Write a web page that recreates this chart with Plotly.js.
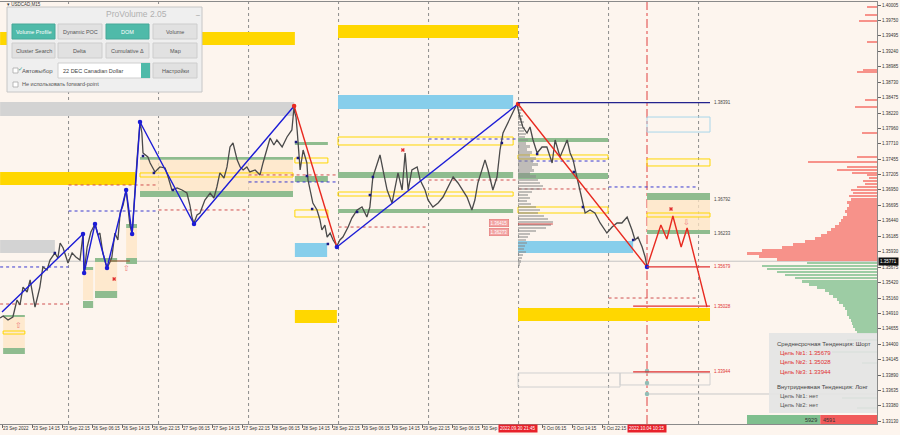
<!DOCTYPE html>
<html><head><meta charset="utf-8">
<script src="https://cdn.plot.ly/plotly-3.0.1.min.js"></script>
<style>html,body{margin:0;padding:0;background:#fdf5ee;}#chart{width:900px;height:435px;}</style>
</head><body><div id="chart"></div>
<script>
// ---------------- DATA ----------------
const tickHours = [0,8,16,24,32,40,48,56,64,72,80,88,96,104,112,120,128,144,152,160];
const tickLabels = ["23 Sep 2022","23 Sep 14:15","23 Sep 22:15","26 Sep 06:15","26 Sep 14:15","26 Sep 22:15","27 Sep 06:15","27 Sep 14:15","27 Sep 22:15","28 Sep 06:15","28 Sep 14:15","28 Sep 22:15","29 Sep 06:15","29 Sep 14:15","29 Sep 22:15","30 Sep 06:15","30 Sep 1","3 Oct 06:15","3 Oct 14:15","3 Oct 22:15"];
const priceTicks = [1.40005,1.39750,1.39495,1.39240,1.38985,1.38730,1.38475,1.38220,1.37960,1.37710,1.37455,1.37205,1.36950,1.36695,1.36440,1.36185,1.35930,1.35675,1.35420,1.35160,1.34910,1.34655,1.34400,1.34145,1.33890,1.33635,1.33380,1.33130];
const currentPrice = 1.35771;

const priceHours = [-0.5,0.3,1.6,2.9,4.0,4.8,5.6,6.7,7.5,8.3,8.8,9.6,10.1,10.9,12.0,12.8,14.1,14.9,15.5,16.3,16.8,17.6,18.7,19.7,20.8,21.6,21.9,22.7,23.7,24.8,25.6,26.1,26.9,28.0,28.8,29.3,30.1,30.9,31.5,32.3,33.1,33.6,34.1,34.7,35.5,36.0,36.8,
37.3,37.6,38.9,39.5,40.8,42.1,43.5,44.3,45.3,46.7,48.0,49.3,50.1,50.7,51.2,52.0,52.8,54.1,55.5,56.5,57.3,58.1,59.2,60.0,60.8,61.6,62.7,63.5,64.3,65.3,66.1,67.5,68.8,69.6,70.7,71.5,72.5,73.3,74.7,76.0,77.3,77.9,78.1,
78.4,78.7,78.9,79.2,79.5,80.3,81.3,81.6,82.1,82.9,84.0,84.8,85.3,86.1,86.7,87.5,88.3,89.3,
90.1,90.9,92.3,93.3,94.7,96.0,97.3,98.1,98.9,100.0,100.8,101.6,102.7,104.0,104.8,105.6,106.7,107.5,108.3,109.3,110.7,111.5,112.8,113.6,114.9,116.3,117.6,118.9,120.3,121.6,122.7,124.0,125.3,126.1,126.9,128.0,128.8,129.6,130.9,132.0,132.8,133.6,134.9,136.3,137.3,
138.1,138.9,140.0,140.8,141.6,142.7,144.0,145.3,146.7,147.5,148.8,150.7,151.5,152.3,153.3,154.1,154.7,155.5,156.8,158.1,159.5,161.3,162.7,164.0,165.3,166.7,168.0,168.8,169.6,170.7,171.5,172.0];
const priceValues = [1.34832,1.34866,1.34799,1.34849,1.35130,1.35048,1.35344,1.35262,1.35461,1.35213,1.35013,1.35213,1.35344,1.35676,1.35626,1.35791,1.35907,1.35824,1.36072,1.35990,1.35907,1.35742,1.35907,1.35841,1.35791,1.36221,1.35577,1.36006,1.36254,1.36386,1.36204,1.36237,1.35907,1.35659,1.35758,1.35841,1.36237,1.36122,1.36568,1.36700,1.36948,1.36700,1.36369,1.36221,1.37064,1.37446,1.38072,
1.37890,1.37560,1.37494,1.37395,1.37246,1.37329,1.37312,1.37163,1.36948,1.36981,1.36948,1.36898,1.36700,1.36485,1.36403,1.36535,1.36568,1.36783,1.36898,1.36816,1.36998,1.37230,1.37146,1.37329,1.37659,1.37725,1.37446,1.37329,1.37279,1.37329,1.37246,1.37279,1.37197,1.37395,1.37659,1.37807,1.37692,1.37774,1.37659,1.37824,1.37940,1.38336,1.38221,
1.38154,1.37940,1.37725,1.37494,1.37279,1.37609,1.37395,1.37113,1.36948,1.36733,1.36618,1.36452,1.36287,1.36369,1.36171,1.36237,1.36122,1.36023,
1.36122,1.36171,1.36336,1.36485,1.36618,1.36667,1.36502,1.36667,1.37163,1.37395,1.37527,1.37279,1.36948,1.36733,1.36998,1.37230,1.36948,1.37560,1.36948,1.37279,1.37329,1.37113,1.36948,1.36783,1.36667,1.36733,1.36832,1.36998,1.37163,1.37064,1.36948,1.36832,1.36618,1.36783,1.37064,1.37279,1.37446,1.37279,1.36948,1.37163,1.37609,1.37890,1.38055,1.38221,1.38369,
1.38154,1.37989,1.37890,1.37989,1.37774,1.37560,1.37659,1.37659,1.37395,1.37774,1.37494,1.37774,1.37560,1.37446,1.37163,1.36948,1.36733,1.36568,1.36618,1.36568,1.36403,1.36237,1.36336,1.36403,1.36403,1.36502,1.36287,1.36122,1.36171,1.36006,1.35841,1.35676];

// zigzag swings
const swingHours  = [0,21.6,21.9,24.8,28.0,33.1,34.7,36.8,51.2,77.9,89.3,137.6,172.0,175.7,177.3,178.9,181.1,182.7,188.0];
const swingPrices = [1.34931,1.36221,1.35577,1.36386,1.35659,1.36948,1.36221,1.38072,1.36386,1.38336,1.36006,1.38369,1.35676,1.36369,1.36138,1.36518,1.36006,1.36320,1.35013];
const legColors   = ["b","b","b","b","b","b","b","b","b","r","b","r","r","r","r","r","r","r"];
const swingDot    = ["","b","b","b","b","b","b","b","b","r","b","r","b","","","","","",""];

// small pivot marks
const pivotHours  = [14.1,37.6,40.5,45.6,78.4,78.9,81.3,82.7,86.9,94.7,98.1,98.9,133.3,142.7,152.5,154.9,168.3];
const pivotPrices = [1.35907,1.37510,1.37230,1.36948,1.37741,1.37477,1.37180,1.36634,1.36056,1.36585,1.36865,1.37163,1.37725,1.37543,1.37246,1.36667,1.36122];

// zones
const zoneStart = [36.8,0.3,21.6,24.8,33.1,172.0,-0.5,89.6,-0.5,89.6,-0.5,36.8,36.8,36.8,-0.5,78.1,78.1,137.6,137.6,89.6,89.6,89.6,89.6,137.6,137.6,137.6,137.6,172.0,172.0,172.0,172.0,172.0,78.1,78.1,78.1,78.1,0.3,0.3,0.3,21.6,21.6,24.8,24.8,33.1,33.1,137.6,164.8];
const zoneEnd   = [77.6,6.1,24.3,30.7,36.0,188.8,78.1,137.6,77.9,136.3,35.5,77.6,77.6,77.6,14.1,86.7,89.3,188.8,168.3,136.3,136.3,136.3,136.3,161.6,161.6,161.6,161.6,188.8,188.8,188.8,188.8,188.8,86.9,86.9,86.9,86.9,6.1,6.1,6.1,24.3,24.3,30.7,30.7,36.0,36.0,164.8,188.8];
const zoneLow   = [1.36932,1.34304,1.35130,1.35262,1.35824,1.36287,1.39344,1.39460,1.38171,1.38287,1.37031,1.37446,1.36832,1.37163,1.35907,1.35841,1.34750,1.34783,1.35907,1.37147,1.36568,1.37692,1.36849,1.37741,1.37130,1.37461,1.36568,1.37906,1.37345,1.36783,1.36502,1.36221,1.37692,1.37395,1.37081,1.36502,1.34849,1.34568,1.34238,1.35626,1.34998,1.35758,1.35163,1.36320,1.35725,1.33692,1.33726];
const zoneHigh  = [1.37446,1.34849,1.35626,1.35758,1.36320,1.36783,1.39559,1.39675,1.38402,1.38518,1.37246,1.37494,1.36932,1.37230,1.36122,1.36072,1.34965,1.34998,1.36105,1.37246,1.36634,1.37824,1.36915,1.37807,1.37230,1.37527,1.36667,1.38154,1.37461,1.36898,1.36568,1.36287,1.37741,1.37477,1.37180,1.36618,1.34882,1.34618,1.34337,1.35676,1.35114,1.35824,1.35279,1.36386,1.35824,1.33924,1.33924];
const zoneKind  = ["beige","beige","beige","beige","beige","beige","gold","gold","grey","sky","gold","green","green","goldline","grey","sky","gold","gold","sky","green","green","goldline","goldline","green","green","goldline","goldline","skyline","goldline","green","goldline","green","green","goldline","green","goldline","green","goldline","green","green","green","green","green","green","green","greyline","greyline"];

// dotted levels
const levelStart = [-0.5,-0.5,17.75,17.75,41.75,65.75,65.75,89.75,113.75,113.75,137.75,137.75,161.75,161.75];
const levelEnd   = [17.75,17.75,41.75,41.75,65.75,89.75,89.75,113.75,137.75,137.75,161.75,161.75,185.75,185.75];
const levelPrice = [1.35676,1.35064,1.36601,1.37031,1.36618,1.37081,1.37197,1.36336,1.37791,1.37113,1.37427,1.36965,1.36998,1.35163];
const levelKind  = ["b","r","b","r","r","b","r","r","b","r","b","r","b","r"];
const dayBreakHours = [17.75,41.75,65.75,89.75,113.75,137.75,161.75,185.75];
const forecastHour = 172.0;

// target lines
const targetStart = [137.6,172.0,168.3,168.3];
const targetEnd   = [188.8,188.8,188.8,188.8];
const targetPrice = [1.38391,1.35679,1.35028,1.33944];
const targetColor = ["#23238e","#e03030","#e03030","#e03030"];
const sideLabelPrice = [1.38391,1.36792,1.36233,1.35679,1.35028,1.33944];
const sideLabelColor = ["#444","#444","#444","#e03030","#e03030","#e03030"];

// session volume profile (grey)
const sessProfileTop = 1.38369, profileStep = 0.0005;
const sessProfileVol = [2,3,4,3,5,4,6,5,7,6,8,7,10,8,12,9,14,12,18,15,20,14,16,12,18,20,22,25,24,14,10,12,9,13,18,22,20,26,30,35,33,28,18,12,10,8,9,7,6,8,5,4,3,2];
const sessProfileStart = 137.6;
const pocPrice = 1.36386, pocEnd = 146.9;

// DOM profile on the right
const askTop = 1.37197;
const askVol = [10,8,14,12,20,26,24,28,26,30,28,30,32,30,34,36,38,42,46,50,56,62,72,84,95,115,130,118,100];
const askSparsePrice = [1.39972,1.39840,1.39741,1.39394,1.38931,1.38898,1.38435,1.38320,1.37890,1.37494,1.37411,1.37329,1.37279,1.37230];
const askSparseVol   = [10,12,18,10,14,20,12,22,15,20,69,30,40,25];
const bidTop = 1.35742;
const bidVol = [70,115,110,100,92,82,75,68,60,52,48,44,40,38,34,32,30,30,28,26,25,24,22,20];
const bidSparsePrice = [1.34469,1.34271,1.34089,1.33512,1.33346];
const bidSparseVol   = [30,45,15,35,20];
const buyVolume = 5929, sellVolume = 4591;

// markers
const arrowUpHours = [4.3,33.3], arrowUpPrices = [1.34716,1.35659];
const crossHours = [29.9,106.9,178.4], crossPrices = [1.35478,1.37609,1.36634];
const arrowDownHours = [182.4], arrowDownPrices = [1.36419];
const tealDotPrices = [1.33957,1.33759,1.33577];
const priceTags = ["1.36415","1.36273"], priceTagValues = [1.36403,1.36254], priceTagHour = 132.6;
const timeTags = ["2022.09.30 21:45","2022.10.04 10:15"], timeTagHours = [137.6,172.0];

const infoLines = ["Среднесрочная Тенденция: Шорт","Цель №1: 1.35679","Цель №2: 1.35028","Цель №3: 1.33944","Внутридневная Тенденция: Лонг","Цель №1: нет","Цель №2: нет"];

// ---------------- LAYOUT HELPERS ----------------
const PW = 877, PH = 422, PT = 2;
const X0 = -0.533, X1 = 233.33, Y0 = 1.33081, Y1 = 1.40055;
const px = v => v / PW;
const py = v => 1 - (v - PT) / PH;
const FONT = "Liberation Sans, Arial, sans-serif";
const BLUE = "#1c1cd6", RED = "#e82a20";

const shapes = [];
const annotations = [];
const traces = [];

const zoneStyle = {
  beige:{fill:"rgba(253,228,195,0.75)", line:null},
  gold:{fill:"#ffd700", line:null},
  grey:{fill:"#d3d3d3", line:null},
  sky:{fill:"#87ceeb", line:null},
  green:{fill:"#8fbc8f", line:null},
  goldline:{fill:"rgba(0,0,0,0)", line:"#ffd700"},
  skyline:{fill:"rgba(0,0,0,0)", line:"#a9d6ea"},
  greyline:{fill:"rgba(0,0,0,0)", line:"#d0d0d0"}
};
for (let i=0;i<zoneStart.length;i++){
  const s = zoneStyle[zoneKind[i]];
  shapes.push({type:"rect", xref:"x", yref:"y", layer:"below", x0:zoneStart[i], x1:zoneEnd[i], y0:zoneLow[i], y1:zoneHigh[i],
    fillcolor:s.fill, line:{width:s.line?1:0, color:s.line||"rgba(0,0,0,0)"}});
}
dayBreakHours.forEach(h=>shapes.push({type:"line", xref:"x", yref:"paper", layer:"below", x0:h, x1:h, y0:0, y1:1, line:{color:"#8c8c8c", width:1, dash:"dot"}}));
shapes.push({type:"line", xref:"x", yref:"paper", layer:"below", x0:forecastHour, x1:forecastHour, y0:0, y1:1, line:{color:"#e04040", width:1, dash:"dashdot"}});
shapes.push({type:"line", xref:"paper", yref:"y", layer:"below", x0:0, x1:1, y0:currentPrice, y1:currentPrice, line:{color:"#c4c4c4", width:1}});
for (let i=0;i<levelStart.length;i++){
  shapes.push({type:"line", xref:"x", yref:"y", layer:"below", x0:levelStart[i], x1:levelEnd[i], y0:levelPrice[i], y1:levelPrice[i],
    line:{color: levelKind[i]==="b" ? "#3a3ad0" : "#d05050", width:1, dash:"dot"}});
}
shapes.push({type:"line", xref:"x", yref:"y", x0:sessProfileStart, x1:pocEnd, y0:pocPrice, y1:pocPrice, line:{color:"#d04545", width:1}});
shapes.push({type:"line", xref:"x", yref:"y", x0:28.8, x1:34.1, y0:1.35775, y1:1.35775, line:{color:"#a0522d", width:1}});
for (let i=0;i<targetStart.length;i++){
  shapes.push({type:"line", xref:"x", yref:"y", x0:targetStart[i], x1:targetEnd[i], y0:targetPrice[i], y1:targetPrice[i], line:{color:targetColor[i], width:1.3}});
}
shapes.push({type:"line", xref:"x", yref:"y", layer:"below", x0:forecastHour, x1:X1, y0:tealDotPrices[2], y1:tealDotPrices[2], line:{color:"#c8c8c8", width:1}});

sideLabelPrice.forEach((p,i)=>annotations.push({x:189.4, y:p, xref:"x", yref:"y", text:p.toFixed(5), showarrow:false, xanchor:"left", yanchor:"middle", font:{size:4.5, color:sideLabelColor[i], family:FONT}}));
priceTags.forEach((t,i)=>annotations.push({x:priceTagHour, y:priceTagValues[i], xref:"x", yref:"y", text:t, showarrow:false, xanchor:"center", yanchor:"middle", bgcolor:"#f2a3a3", bordercolor:"#e06b6b", borderwidth:0.5, borderpad:1, font:{size:4.5, color:"#fff", family:FONT}}));
timeTags.forEach((t,i)=>annotations.push({x:timeTagHours[i], y:py(428.5), xref:"x", yref:"paper", text:t, showarrow:false, xanchor:"center", yanchor:"middle", bgcolor:"#e8212a", borderpad:1, font:{size:4.5, color:"#fff", family:FONT}}));
annotations.push({x:1, y:currentPrice, xref:"paper", yref:"y", text:currentPrice.toFixed(5), showarrow:false, xanchor:"left", yanchor:"middle", bgcolor:"#111", borderpad:1, xshift:1, font:{size:4.5, color:"#fff", family:FONT}});
arrowUpHours.forEach((h,i)=>annotations.push({x:h, y:arrowUpPrices[i], xref:"x", yref:"y", text:"⇧", showarrow:false, font:{size:8, color:"#ef7d7d"}}));
arrowDownHours.forEach((h,i)=>annotations.push({x:h, y:arrowDownPrices[i], xref:"x", yref:"y", text:"⇩", showarrow:false, font:{size:8, color:"#ef7d7d"}}));
annotations.push({x:px(5), y:py(4.5), xref:"paper", yref:"paper", text:"▾ USDCAD,M15", showarrow:false, xanchor:"left", yanchor:"middle", font:{size:4.5, color:"#333", family:FONT}});

// ---- traces ----
traces.push({type:"bar", orientation:"h", base:sessProfileStart, x:sessProfileVol.map(v=>v/3.75), y:sessProfileVol.map((v,i)=>sessProfileTop - i*profileStep),
  width:0.00038, marker:{color:"rgba(140,140,140,0.55)", line:{width:0}}, hoverinfo:"skip", showlegend:false});
const askPrices = askVol.map((v,i)=>askTop - i*profileStep).concat(askSparsePrice);
const askLens = askVol.concat(askSparseVol);
traces.push({type:"bar", orientation:"h", base:X1, x:askLens.map(v=>-v/3.75), y:askPrices, width:0.00045,
  marker:{color:"rgba(246,128,120,0.85)", line:{width:0}}, hoverinfo:"skip", showlegend:false});
const bidPrices = bidVol.map((v,i)=>bidTop - i*profileStep).concat(bidSparsePrice);
const bidLens = bidVol.concat(bidSparseVol);
traces.push({type:"bar", orientation:"h", base:X1, x:bidLens.map(v=>-v/3.75), y:bidPrices, width:0.00045,
  marker:{color:"rgba(140,196,150,0.85)", line:{width:0}}, hoverinfo:"skip", showlegend:false});
traces.push({type:"scatter", mode:"lines", x:priceHours, y:priceValues, line:{color:"#4a4a4a", width:1.3}, hoverinfo:"skip", showlegend:false});
let runStart = 0;
for (let i=1;i<=legColors.length;i++){
  if (i===legColors.length || legColors[i]!==legColors[runStart]){
    traces.push({type:"scatter", mode:"lines", x:swingHours.slice(runStart, i+1), y:swingPrices.slice(runStart, i+1),
      line:{color: legColors[runStart]==="b" ? BLUE : RED, width:1.4}, hoverinfo:"skip", showlegend:false});
    runStart = i;
  }
}
traces.push({type:"scatter", mode:"markers", x:pivotHours, y:pivotPrices, marker:{symbol:"square", size:2.5, color:"#1a1a80"}, hoverinfo:"skip", showlegend:false});
const dotIdx = swingDot.map((d,i)=>d?i:-1).filter(i=>i>=0);
traces.push({type:"scatter", mode:"markers", x:dotIdx.map(i=>swingHours[i]), y:dotIdx.map(i=>swingPrices[i]),
  marker:{size:4.5, color:dotIdx.map(i=>swingDot[i]==="b"?BLUE:RED)}, hoverinfo:"skip", showlegend:false});
traces.push({type:"scatter", mode:"markers", x:crossHours, y:crossPrices, marker:{symbol:"x", size:3.5, color:"#e03030"}, hoverinfo:"skip", showlegend:false});
traces.push({type:"scatter", mode:"markers", x:tealDotPrices.map(()=>forecastHour), y:tealDotPrices, marker:{size:4.5, color:"#93bdb6"}, hoverinfo:"skip", showlegend:false});

// ---- bottom-right volume box ----
const totalVol = buyVolume + sellVolume;
const boxL = 747, boxR = 877, boxSplit = boxL + (boxR-boxL)*buyVolume/totalVol;
shapes.push({type:"rect", xref:"paper", yref:"paper", x0:px(boxL), x1:px(boxSplit), y0:py(424), y1:py(415), fillcolor:"#7fbf8e", line:{width:0}});
shapes.push({type:"rect", xref:"paper", yref:"paper", x0:px(boxSplit), x1:px(boxR), y0:py(424), y1:py(415), fillcolor:"#f15a5a", line:{width:0}});
annotations.push({x:px(boxSplit-1), y:py(419.5), xref:"paper", yref:"paper", text:String(buyVolume), showarrow:false, xanchor:"right", yanchor:"middle", font:{size:5.5, color:"#333", family:FONT}});
annotations.push({x:px(boxSplit+1), y:py(419.5), xref:"paper", yref:"paper", text:String(sellVolume), showarrow:false, xanchor:"left", yanchor:"middle", font:{size:5.5, color:"#333", family:FONT}});

// ---- info panel ----
shapes.push({type:"rect", xref:"paper", yref:"paper", layer:"above", x0:px(769), x1:px(877), y0:py(413), y1:py(333), fillcolor:"rgba(228,228,228,0.92)", line:{width:0}});
const infoY = [344,353,362,372,387,396,405];
const infoX = [775,778,778,778,775,778,778];
const infoC = ["#444","#e03030","#e03030","#e03030","#444","#555","#555"];
infoLines.forEach((t,i)=>annotations.push({x:px(infoX[i]), y:py(infoY[i]), xref:"paper", yref:"paper", text:t, showarrow:false, xanchor:"left", yanchor:"middle", font:{size:6, color:infoC[i], family:FONT}}));

// ---- ProVolume panel ----
shapes.push({type:"rect", xref:"paper", yref:"paper", layer:"above", x0:px(7), x1:px(202), y0:py(92), y1:py(7), fillcolor:"#efefef", line:{color:"#c6c6c6", width:1}});
annotations.push({x:px(104), y:py(14), xref:"paper", yref:"paper", yanchor:"middle", text:"ProVolume 2.05", showarrow:false, font:{size:8.5, color:"#b0b0b0", family:FONT}});
annotations.push({x:px(193), y:py(12), xref:"paper", yref:"paper", yanchor:"middle", text:"_", showarrow:false, font:{size:7, color:"#999", family:FONT}});
const buttons = [
  ["Volume Profile",12,24,55,39,true],["Dynamic POC",58,24,102,39,false],["DOM",106,24,149,39,true],["Volume",153,24,197,39,false],
  ["Cluster Search",12,43,55,58,false],["Delta",58,43,102,58,false],["Cumulative Δ",106,43,149,58,false],["Map",153,43,197,58,false],
  ["Настройки",153,63,197,78,false]];
buttons.forEach(b=>{
  shapes.push({type:"rect", xref:"paper", yref:"paper", layer:"above", x0:px(b[1]), x1:px(b[3]), y0:py(b[4]), y1:py(b[2]),
    fillcolor:b[5]?"#4fbaa9":"#e1e1e1", line:{color:b[5]?"#46a898":"#cdcdcd", width:1}});
  annotations.push({x:px((b[1]+b[3])/2), y:py((b[2]+b[4])/2), xref:"paper", yref:"paper", xanchor:"center", yanchor:"middle", text:b[0], showarrow:false,
    font:{size:5.5, color:b[5]?"#ffffff":"#555", family:FONT}});
});
shapes.push({type:"rect", xref:"paper", yref:"paper", layer:"above", x0:px(58), x1:px(150), y0:py(78), y1:py(63), fillcolor:"#ffffff", line:{color:"#cfcfcf", width:1}});
shapes.push({type:"rect", xref:"paper", yref:"paper", layer:"above", x0:px(141), x1:px(150), y0:py(78), y1:py(63), fillcolor:"#4fbaa9", line:{width:0}});
annotations.push({x:px(61), y:py(70.5), xref:"paper", yref:"paper", yanchor:"middle", text:"22 DEC Canadian Dollar", showarrow:false, xanchor:"left", font:{size:5.5, color:"#444", family:FONT}});
shapes.push({type:"rect", xref:"paper", yref:"paper", layer:"above", x0:px(13), x1:px(18), y0:py(73), y1:py(68), fillcolor:"#fff", line:{color:"#aaa", width:0.8}});
annotations.push({x:px(15.5), y:py(69.5), xref:"paper", yref:"paper", yanchor:"middle", text:"✓", showarrow:false, font:{size:6, color:"#3aa596"}});
annotations.push({x:px(20), y:py(70.5), xref:"paper", yref:"paper", yanchor:"middle", text:"Автовыбор", showarrow:false, xanchor:"left", font:{size:6, color:"#555", family:FONT}});
shapes.push({type:"rect", xref:"paper", yref:"paper", layer:"above", x0:px(13), x1:px(18), y0:py(87), y1:py(82), fillcolor:"#fff", line:{color:"#aaa", width:0.8}});
annotations.push({x:px(20), y:py(84.5), xref:"paper", yref:"paper", yanchor:"middle", text:"Не использовать forward-point", showarrow:false, xanchor:"left", font:{size:5.5, color:"#555", family:FONT}});

const layout = {
  width:900, height:435, margin:{l:0, r:23, t:2, b:11},
  paper_bgcolor:"#fdf5ee", plot_bgcolor:"#fdf5ee",
  barmode:"overlay", bargap:0,
  font:{family:FONT, size:5, color:"#333"},
  xaxis:{range:[X0,X1], tickvals:tickHours, ticktext:tickLabels, tickangle:0, ticks:"outside", ticklen:3, tickcolor:"#666",
    ticklabelposition:"outside right", ticklabeloverflow:"allow", tickfont:{size:4.5, color:"#333", family:FONT}, showgrid:false, zeroline:false,
    showline:true, linecolor:"#8a8a8a", linewidth:1, mirror:true, fixedrange:true, automargin:false},
  yaxis:{side:"right", range:[Y0,Y1], tickvals:priceTicks, ticktext:priceTicks.map(v=>v.toFixed(5)), ticks:"outside", ticklen:3, tickcolor:"#666",
    tickfont:{size:4.5, color:"#333", family:FONT}, showgrid:false, zeroline:false, showline:true, linecolor:"#8a8a8a", linewidth:1, mirror:true, fixedrange:true, automargin:false},
  shapes:shapes, annotations:annotations, showlegend:false
};
Plotly.newPlot("chart", traces, layout, {staticPlot:true, displayModeBar:false});
</script></body></html>
